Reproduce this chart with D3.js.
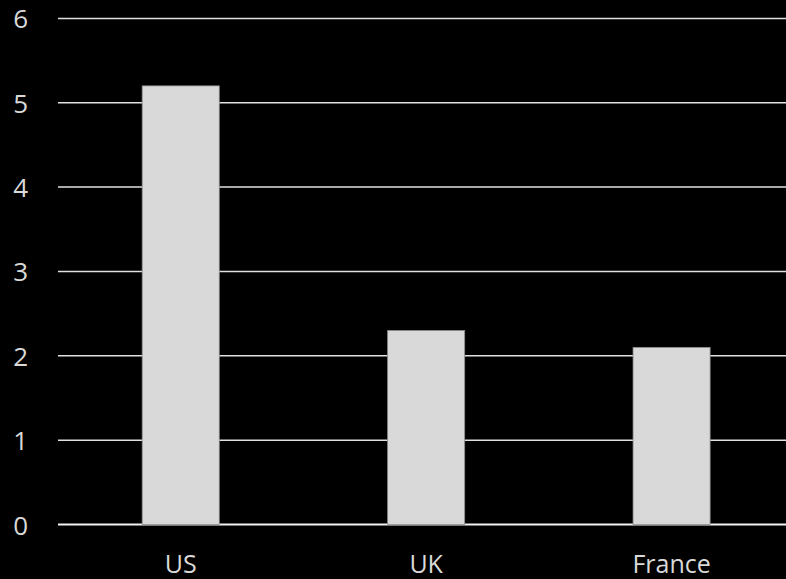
<!DOCTYPE html>
<html>
<head>
<meta charset="utf-8">
<script src="https://cdn.jsdelivr.net/npm/d3@7"></script>
<style>
  html, body { margin: 0; padding: 0; background: #000; }
  svg { display: block; }
</style>
</head>
<body>
<svg id="chart" width="786" height="579"></svg>
<script>
const categories = ["US", "UK", "France"];
const values = [5.2, 2.3, 2.1];
const yTicks = [0, 1, 2, 3, 4, 5, 6];

const W = 786, H = 579;
const svg = d3.select("#chart");
svg.append("rect").attr("width", W).attr("height", H).attr("fill", "#000");

const plotLeft = 58, plotRight = 794.3, plotTop = 18.4, plotBottom = 524.5;

const x = d3.scaleBand()
  .domain(categories)
  .range([plotLeft, plotRight])
  .paddingInner(0.686)
  .paddingOuter(0.343);

const y = d3.scaleLinear()
  .domain([0, 6])
  .range([plotBottom, plotTop]);

const font = "'Open Sans', 'DejaVu Sans', sans-serif";
const textColor = "#d9d9d9";

// gridlines
svg.append("g")
  .selectAll("line")
  .data(yTicks)
  .join("line")
  .attr("x1", plotLeft)
  .attr("x2", W)
  .attr("y1", d => y(d))
  .attr("y2", d => y(d))
  .attr("stroke", d => d === 0 ? "#f2f2f2" : "#e0e0e0")
  .attr("stroke-width", d => d === 0 ? 2 : 1.5);

// y labels
svg.append("g")
  .selectAll("text")
  .data(yTicks)
  .join("text")
  .attr("x", 28)
  .attr("y", d => y(d) + 10)
  .attr("text-anchor", "end")
  .attr("font-family", font)
  .attr("font-size", 26)
  .attr("fill", textColor)
  .text(d => d);

// bars
svg.append("g")
  .selectAll("rect")
  .data(categories.map((c, i) => ({ c, v: values[i] })))
  .join("rect")
  .attr("x", d => x(d.c))
  .attr("width", x.bandwidth())
  .attr("y", d => y(d.v))
  .attr("height", d => y(0) - y(d.v))
  .attr("fill", "#d9d9d9")
  .attr("stroke", "#8c8c8c")
  .attr("stroke-width", 0.8);

// x labels
svg.append("g")
  .selectAll("text")
  .data(categories)
  .join("text")
  .attr("x", d => x(d) + x.bandwidth() / 2)
  .attr("y", 573)
  .attr("text-anchor", "middle")
  .attr("font-family", font)
  .attr("font-size", 25)
  .attr("fill", textColor)
  .text(d => d);
</script>
</body>
</html>
